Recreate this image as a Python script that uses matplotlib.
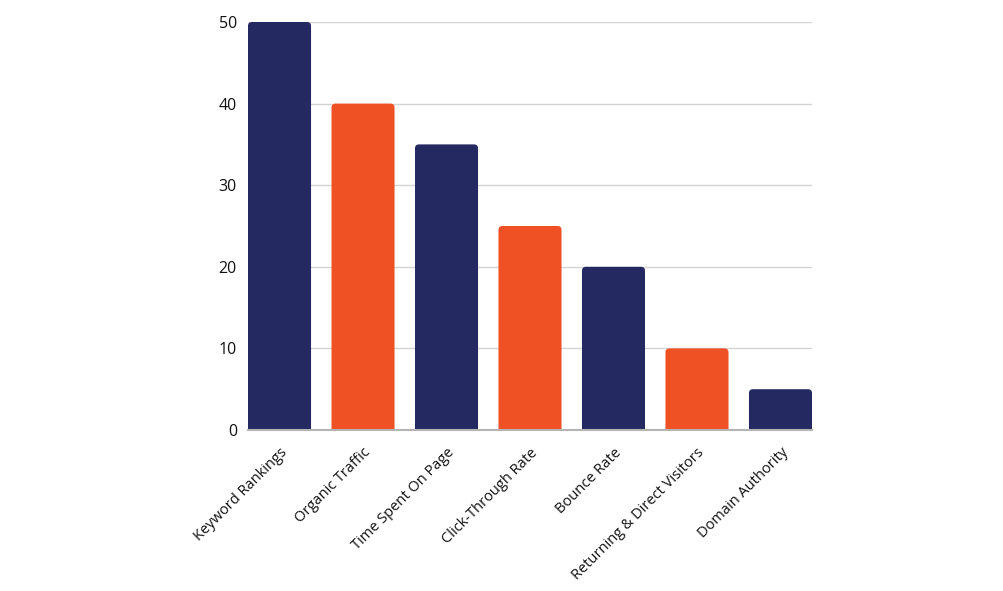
import matplotlib
matplotlib.use("Agg")
import matplotlib.pyplot as plt
from matplotlib.path import Path
from matplotlib.patches import PathPatch

categories = ["Keyword Rankings", "Organic Traffic", "Time Spent On Page",
              "Click-Through Rate", "Bounce Rate", "Returning & Direct Visitors",
              "Domain Authority"]
values = [50, 40, 35, 25, 20, 10, 5]
colors = ["#252962", "#EF5024", "#252962", "#EF5024", "#252962", "#EF5024", "#252962"]
yticks = [0, 10, 20, 30, 40, 50]

plt.rcParams['font.family'] = ['Open Sans', 'DejaVu Sans']

fig = plt.figure(figsize=(10.04, 5.91), dpi=100)
ax = fig.add_axes([248/1004, 1-430/591, (812-248)/1004, (430-22)/591])

x = list(range(len(categories)))
w = 0.755
bars = ax.bar(x, values, width=w, color=colors, zorder=3)
ax.set_xlim(-w/2, len(categories) - 1 + w/2)
ax.set_ylim(0, 50)

ax.set_yticks(yticks)
ax.set_yticklabels([str(t) for t in yticks], fontsize=11.5, color="#111111")
ax.set_xticks(x)
ax.set_xticklabels(categories, rotation=45, ha="right", rotation_mode="anchor",
                   fontsize=10.5, color="#111111")
ax.tick_params(axis='both', length=0)
ax.tick_params(axis='y', pad=8)
ax.tick_params(axis='x', pad=11)

ax.grid(axis='y', color="#d4d4d4", linewidth=1, zorder=0)
for s in ["left", "right", "top"]:
    ax.spines[s].set_visible(False)
ax.spines["bottom"].set_color("#b4b4b4")
ax.spines["bottom"].set_linewidth(1.5)
ax.spines["bottom"].set_zorder(4)

# rounded top corners
fig.canvas.draw()
inv = ax.transData.inverted()
r_px = 4
p0 = inv.transform((0, 0)); p1 = inv.transform((r_px, r_px))
rx, ry = p1[0] - p0[0], p1[1] - p0[1]
for b in bars:
    x0, y0, bw, bh = b.get_x(), b.get_y(), b.get_width(), b.get_height()
    x1, y1 = x0 + bw, y0 + bh
    verts = [(x0, y0), (x0, y1 - ry), (x0, y1), (x0 + rx, y1),
             (x1 - rx, y1), (x1, y1), (x1, y1 - ry), (x1, y0), (x0, y0)]
    codes = [Path.MOVETO, Path.LINETO, Path.CURVE3, Path.CURVE3,
             Path.LINETO, Path.CURVE3, Path.CURVE3, Path.LINETO, Path.CLOSEPOLY]
    patch = PathPatch(Path(verts, codes), facecolor=b.get_facecolor(),
                      edgecolor="none", zorder=3)
    ax.add_patch(patch)
    b.set_visible(False)

fig.savefig("out.png", dpi=100)
